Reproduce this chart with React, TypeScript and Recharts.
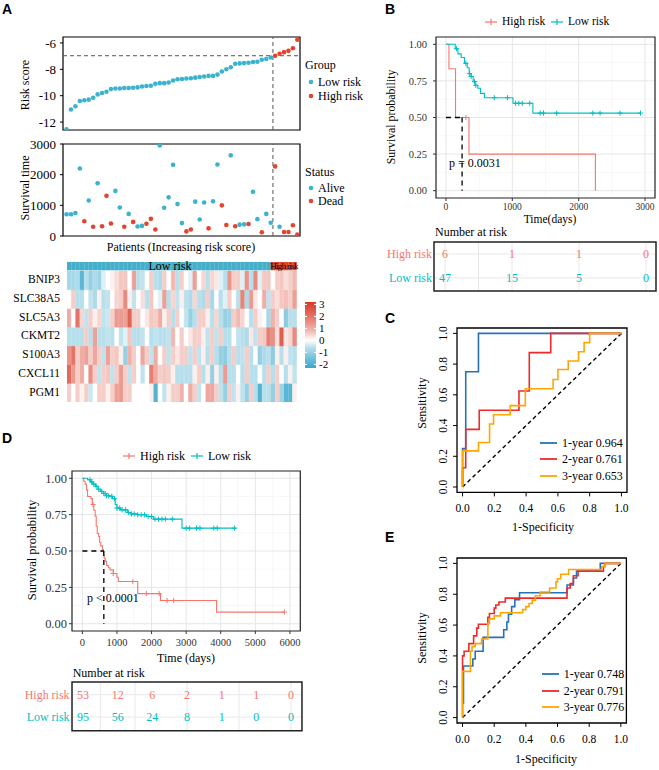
"use client"

import {
  ComposedChart, BarChart, Bar, Cell, Line, Scatter, XAxis, YAxis,
  CartesianGrid, ReferenceLine, ReferenceArea,
} from "recharts"

const SERIF = '"Liberation Serif", "Times New Roman", serif'
const SANS = '"Liberation Sans", Arial, sans-serif'

const KM_RED = "#F8766D"
const KM_TEAL = "#00BFC4"
const A_BLUE = "#3BB3D0"
const A_RED = "#E4432E"
const ROC_BLUE = "#2473B8"
const ROC_RED = "#EE2A2A"
const ROC_ORANGE = "#FFA500"

// ---------- A: risk score / survival time / heatmap ----------
const riskScore = [
  -12.55, -11.05, -10.8, -10.4, -10.35, -10.3, -10.15, -9.9, -9.8, -9.7,
  -9.5, -9.45, -9.45, -9.42, -9.42, -9.4, -9.37, -9.3, -9.27, -9.25,
  -9.1, -9.05, -9.05, -9.0, -8.85, -8.75, -8.73, -8.7, -8.68, -8.63,
  -8.58, -8.55, -8.5, -8.5, -8.4, -8.17, -8.0, -7.84, -7.58, -7.55,
  -7.53, -7.5, -7.45, -7.43, -7.28, -7.22, -7.1,
  -6.97, -6.82, -6.7, -6.6, -6.4, -5.75,
]
const riskCutoff = -6.97

const survTime = [
  710, 710, 750, 2200, 480, 1160, 300, 1720, 320, 1310,
  410, 1470, 930, 300, 720, 460, 310, 330, 400, 560,
  210, 2950, 920, 1260, 2320, 1040, 420, 150, 210, 1120,
  540, 1090, 250, 1130, 2330, 1000, 360, 2630, 320, 370,
  380, 390, 1440, 550, 120, 720, 430,
  2270, 300, 130, 130, 350, 50,
]
// 1 = dead, 0 = alive
const status = [
  0, 0, 0, 0, 1, 0, 1, 0, 1, 1,
  1, 0, 0, 1, 0, 1, 0, 0, 1, 1,
  1, 0, 0, 0, 0, 0, 0, 1, 1, 0,
  0, 0, 1, 0, 0, 1, 1, 0, 1, 0,
  0, 1, 0, 0, 1, 0, 0,
  1, 0, 1, 1, 1, 1,
]

const genes = ["BNIP3", "SLC38A5", "SLC5A3", "CKMT2", "S100A3", "CXCL11", "PGM1"]
const BNIP3 = [-0.8, -0.8, -0.7, -1.8, -0.6, -1.0, -0.7, -0.9, -0.2, 0.0, 0.1, 0.3, 0.6, 0.6, 0.0, 1.2, -0.6, -0.5, 0.0, 0.5, -0.6, -0.7, 0.5, 0.0, 0.8, -0.6, 0.5,
  0.0, -0.2, 1.2, 0.0, 0.4, -0.6, 0.4, 0.2, -0.2, -0.6, 1.4, 0.5, 0.5, -0.2, 1.4, -0.6, 1.6, -0.2, 0.6, 0.6, 0.0, 0.5, 0.6, 0.3, 0.5, 0.8]
const SLC38A5 = [0.0, 0.5, -0.6, -0.6, 0.0, -0.5, -0.7, 0.1, -0.6, -0.5, 0.0, 0.4, 0.5, 1.6, 0.1, -0.5, 0.0, 0.3, -0.6, 0.6, 0.0, -0.2, 1.2, -0.6, 0.4, -0.5, 0.1,
  -0.6, -0.7, 0.4, -0.6, -0.7, 0.5, -0.8, 0.0, -0.6, -0.2, 0.5, 0.0, -0.6, 1.7, -0.7, 1.3, 0.2, 0.0, 1.0, -0.5, 0.5, 0.3, 0.6, 0.7, 0.5, 1.2]
const SLC5A3 = [1.0, 0.0, 2.0, 0.4, -0.5, 0.5, 0.1, 0.4, -0.5, -0.4, 0.5, 1.3, 1.3, 1.2, 2.3, 0.5, 0.5, 0.0, 0.2, 0.6, 0.5, 1.0, 0.1, 0.5, -0.6, 0.5, 0.0,
  -0.5, -1.0, -0.6, 0.5, 0.5, 0.1, -0.6, 0.4, -0.6, -1.0, -0.9, 0.5, 0.8, 0.4, 0.0, -0.6, 0.5, 0.1, 0.0, -0.8, 0.9, 0.5, 0.0, -1.1, -0.6, -0.6]
const CKMT2 = [-0.6, -0.6, -0.6, -0.6, 0.5, -0.6, 1.2, -0.6, -0.6, -0.5, -0.6, 0.0, -0.5, -0.2, 0.6, -0.6, -0.6, -0.5, 0.0, -0.6, -0.5, -0.6, -0.6, -0.5, 0.8, 0.0, 0.5,
  0.0, 0.2, 0.5, 0.5, 0.1, -0.5, 0.5, -0.5, 0.5, -0.6, -0.6, 0.0, -0.5, -0.6, -0.7, 0.2, -0.5, 0.5, 0.6, 1.8, 1.5, 0.3, 2.4, 0.2, 0.4, 1.6]
const S100A3 = [1.4, 2.0, 0.5, 1.0, 1.2, 0.5, 1.1, 0.5, -0.5, 1.2, 0.5, 0.6, 0.1, -1.0, 0.9, 0.5, 0.0, 1.1, 0.5, -0.5, 1.0, 0.0, 0.5, -0.5, 0.5, 0.2, 0.5,
  0.5, -0.5, 0.5, -0.5, 0.1, -0.6, 0.5, -0.6, -1.0, -1.1, -0.6, 0.5, -0.6, -0.5, 0.5, -0.6, 0.0, -1.0, -0.7, -0.6, -1.1, 0.1, -0.6, 0.1, -0.5, -0.6]
const CXCL11 = [2.2, 1.3, 0.5, 1.0, 0.0, 1.5, 0.5, -0.5, 0.5, 0.6, -0.5, 0.5, 1.3, 0.5, -0.5, 0.5, 0.0, -0.5, 0.0, 1.8, 1.0, 0.5, 0.6, 0.5, 0.1, -0.6, -0.6,
  -0.6, -0.6, 0.1, 0.5, -0.6, 0.1, -1.0, 0.1, -0.6, 1.3, -0.6, -0.6, 0.0, -0.6, 0.5, -0.6, -0.6, 0.0, -0.6, 0.5, -0.6, 0.5, 0.0, -0.6, 0.1, -0.5]
const PGM1 = [0.5, 0.0, 0.5, 0.1, 0.5, -0.4, 0.0, 0.5, 0.5, 0.1, 0.5, 1.2, 1.3, 0.5, 0.5, 0.0, 0.0, 0.0, 0.0, 0.1, -1.9, 0.0, -0.5, 0.1, 0.5, 0.5, 0.9,
  0.0, 1.0, 0.5, -0.5, 0.0, 1.1, 1.1, 0.5, -0.5, -1.0, 0.5, -0.5, 0.1, -0.5, -1.0, 0.5, -0.6, -1.9, -0.6, -0.6, -1.0, 0.5, -0.9, -1.8, -1.8, 0.1]
const geneRows = [BNIP3, SLC38A5, SLC5A3, CKMT2, S100A3, CXCL11, PGM1]
const heatLegendTicks = [3, 2, 1, 0, -1, -2]

// ---------- B: KM (small cohort) ----------
const bHighT = [0, 45, 144, 347, 2252]
const bHighS = [1, 0.833, 0.5, 0.25, 0]
const bHighCensT = [300]
const bHighCensS = [0.5]
const bLowT = [0, 140, 180, 230, 280, 320, 350, 380, 410, 440, 480, 520, 580, 1010, 1310, 2931]
const bLowS = [1, 0.97, 0.935, 0.91, 0.87, 0.84, 0.8, 0.78, 0.745, 0.72, 0.7, 0.665, 0.635, 0.597, 0.53, 0.53]
const bLowCensT = [158, 300, 356, 380, 431, 450, 728, 926, 1050, 1099, 1149, 1262, 1421, 1470, 1668, 2213, 2322, 2624, 2931]
const bLowCensS = [0.97, 0.87, 0.8, 0.78, 0.745, 0.72, 0.635, 0.635, 0.597, 0.597, 0.597, 0.597, 0.53, 0.53, 0.53, 0.53, 0.53, 0.53, 0.53]
const bMedian = 243
const bTableT = [0, 1000, 2000, 3000]
const bHighN = [6, 1, 1, 0]
const bLowN = [47, 15, 5, 0]

// ---------- C: ROC ----------
const c1x = [0, 0, 0.02, 0.02, 0.1, 0.1, 1]
const c1y = [0, 0.25, 0.25, 0.75, 0.75, 1, 1]
const c2x = [0, 0, 0.02, 0.02, 0.105, 0.105, 0.355, 0.355, 0.42, 0.42, 0.555, 0.555, 1]
const c2y = [0, 0.125, 0.125, 0.375, 0.375, 0.5, 0.5, 0.625, 0.625, 0.875, 0.875, 1, 1]
const c3x = [0, 0, 0.1, 0.1, 0.17, 0.17, 0.195, 0.195, 0.3, 0.3, 0.395, 0.395, 0.57, 0.57, 0.6, 0.6, 0.665, 0.665, 0.73, 0.73, 0.765, 0.765, 0.8, 0.8, 1]
const c3y = [0, 0.235, 0.235, 0.29, 0.29, 0.41, 0.41, 0.47, 0.47, 0.53, 0.53, 0.64, 0.64, 0.7, 0.7, 0.765, 0.765, 0.82, 0.82, 0.88, 0.88, 0.94, 0.94, 1, 1]
const cLabels = ["1-year 0.964", "2-year 0.761", "3-year 0.653"]

// ---------- D: KM (large cohort) ----------
const dHighT = [0, 40, 80, 120, 150, 250, 290, 330, 370, 400, 430, 470, 500, 530, 580, 610, 630, 660, 700, 750, 800, 900, 1000, 1040, 1600, 2260, 3880, 5840]
const dHighS = [1, 0.98, 0.96, 0.92, 0.875, 0.86, 0.82, 0.78, 0.74, 0.67, 0.62, 0.6, 0.56, 0.535, 0.51, 0.47, 0.45, 0.43, 0.4, 0.385, 0.37, 0.345, 0.32, 0.29, 0.207, 0.16, 0.08, 0.08]
const dHighCensT = [310, 890, 1460, 1850, 2220, 2450, 2640, 5840]
const dHighCensS = [0.82, 0.345, 0.29, 0.207, 0.207, 0.16, 0.16, 0.08]
const dLowT = [0, 150, 230, 300, 380, 450, 520, 600, 700, 800, 870, 950, 1000, 1100, 1300, 1400, 1600, 1850, 2050, 2880, 4440]
const dLowS = [1, 0.99, 0.975, 0.96, 0.945, 0.925, 0.91, 0.895, 0.88, 0.876, 0.86, 0.82, 0.795, 0.783, 0.765, 0.755, 0.749, 0.737, 0.719, 0.657, 0.657]
const dLowCensT = [220, 270, 330, 400, 470, 560, 620, 660, 700, 760, 850, 930, 1000, 1080, 1150, 1250, 1330, 1420, 1500, 1600, 1700, 1800, 1900, 2000, 2100, 2200, 2300, 2400, 2600, 3000, 3100, 3300, 3400, 3800, 3900, 4400]
const dLowCensS = [0.99, 0.975, 0.96, 0.945, 0.925, 0.91, 0.895, 0.895, 0.88, 0.88, 0.876, 0.86, 0.795, 0.795, 0.783, 0.783, 0.765, 0.755, 0.755, 0.749, 0.749, 0.749, 0.737, 0.737, 0.719, 0.719, 0.719, 0.719, 0.719, 0.657, 0.657, 0.657, 0.657, 0.657, 0.657, 0.657]
const dMedian = 620
const dTableT = [0, 1000, 2000, 3000, 4000, 5000, 6000]
const dHighN = [53, 12, 6, 2, 1, 1, 0]
const dLowN = [95, 56, 24, 8, 1, 0, 0]

// ---------- E: ROC ----------
const e1x = [0.006, 0.006, 0.065, 0.065, 0.08, 0.08, 0.13, 0.13, 0.26, 0.26, 0.28, 0.28, 0.29, 0.29, 0.31, 0.31, 0.33, 0.33, 0.36, 0.36, 0.66, 0.66, 0.7, 0.7, 0.72, 0.72, 0.87, 0.87, 1]
const e1y = [0.09, 0.335, 0.335, 0.38, 0.38, 0.43, 0.43, 0.52, 0.52, 0.57, 0.57, 0.62, 0.62, 0.67, 0.67, 0.72, 0.72, 0.765, 0.765, 0.81, 0.81, 0.86, 0.86, 0.905, 0.905, 0.95, 0.95, 1, 1]
const e2x = [0, 0, 0.01, 0.01, 0.04, 0.04, 0.07, 0.07, 0.09, 0.09, 0.1, 0.1, 0.16, 0.16, 0.17, 0.17, 0.2, 0.2, 0.21, 0.21, 0.23, 0.23, 0.27, 0.27, 0.66, 0.66, 0.68, 0.68, 0.7, 0.7, 0.73, 0.73, 0.89, 0.89, 0.9, 0.9, 1]
const e2y = [0, 0.4, 0.4, 0.43, 0.43, 0.48, 0.48, 0.53, 0.53, 0.58, 0.58, 0.605, 0.605, 0.65, 0.65, 0.675, 0.675, 0.71, 0.71, 0.73, 0.73, 0.75, 0.75, 0.775, 0.775, 0.84, 0.84, 0.87, 0.87, 0.92, 0.92, 0.95, 0.95, 0.98, 0.98, 1, 1]
const e3x = [0, 0, 0.05, 0.05, 0.06, 0.06, 0.08, 0.08, 0.12, 0.12, 0.16, 0.16, 0.17, 0.17, 0.2, 0.2, 0.24, 0.24, 0.38, 0.38, 0.4, 0.4, 0.42, 0.42, 0.44, 0.44, 0.46, 0.46, 0.49, 0.49, 0.55, 0.55, 0.59, 0.59, 0.6, 0.6, 0.62, 0.62, 0.67, 0.67, 0.88, 0.88, 0.9, 0.9, 1]
const e3y = [0, 0.3, 0.3, 0.43, 0.43, 0.46, 0.46, 0.48, 0.48, 0.51, 0.51, 0.61, 0.61, 0.64, 0.64, 0.66, 0.66, 0.68, 0.68, 0.7, 0.7, 0.72, 0.72, 0.74, 0.74, 0.76, 0.76, 0.79, 0.79, 0.815, 0.815, 0.84, 0.84, 0.88, 0.88, 0.9, 0.9, 0.93, 0.93, 0.96, 0.96, 0.98, 0.98, 1, 1]
const eLabels = ["1-year 0.748", "2-year 0.791", "3-year 0.776"]

// ---------- helpers ----------
const zip = (xs: number[], ys: number[]) => xs.map((x, i) => ({ x, y: ys[i] }))

type Box = { x: number; y: number; w: number; h: number }
const PAD = 14
function frame(b: Box, yw: number, xh: number) {
  return {
    style: { position: "absolute" as const, left: b.x - yw - PAD, top: b.y - PAD },
    width: b.w + yw + 2 * PAD,
    height: b.h + xh + 2 * PAD,
    margin: { top: PAD, right: PAD, bottom: PAD, left: PAD },
  }
}

function Txt({ x, y, text, size = 12, anchor = "start", rotate = false, color = "#000", bold = false, family = SERIF, spacing = 0 }: any) {
  const tx = anchor === "start" ? "0" : anchor === "end" ? "-100%" : "-50%"
  return (
    <div style={{
      position: "absolute", left: x, top: y,
      transform: rotate ? "translate(-50%,-50%) rotate(-90deg)" : `translate(${tx},-50%)`,
      fontSize: size, fontFamily: family, color, fontWeight: bold ? 700 : 400,
      whiteSpace: "nowrap", lineHeight: 1, letterSpacing: spacing,
    }}>{text}</div>
  )
}

const dot = (color: string, r = 2.3) => (p: any) => <circle cx={p.cx} cy={p.cy} r={r} fill={color} />
const plus = (color: string, s = 2.6) => (p: any) => (
  <path d={`M${p.cx - s},${p.cy}h${2 * s}M${p.cx},${p.cy - s}v${2 * s}`} stroke={color} strokeWidth={1} fill="none" />
)

const HEAT_BLUE = [58, 168, 203]
const HEAT_RED = [216, 58, 38]
function heatColor(v: number) {
  const c = v < 0 ? HEAT_BLUE : HEAT_RED
  const t = Math.pow(Math.min(1, v < 0 ? -v / 2.3 : v / 3.2), 0.75)
  const m = c.map((k) => Math.round(255 + (k - 255) * t))
  return `rgb(${m.join(",")})`
}

const rotTick = (p: any) => (
  <text x={p.x - 4} y={p.y} transform={`rotate(-90 ${p.x - 4} ${p.y})`} textAnchor="middle"
    fontSize={11.5} fontFamily={SERIF} fill="#000">{Number(p.payload.value).toFixed(1)}</text>
)

function KmLegendItem({ x, y, color, label, size }: any) {
  return (
    <>
      <svg style={{ position: "absolute", left: x, top: y - 5 }} width={14} height={10}>
        <line x1={1} y1={5} x2={13} y2={5} stroke={color} strokeWidth={1.2} />
        <line x1={7} y1={2} x2={7} y2={8} stroke={color} strokeWidth={1.2} />
      </svg>
      <Txt x={x + 18} y={y} text={label} size={size} />
    </>
  )
}

function RocLegend({ x, y, labels }: any) {
  const cols = [ROC_BLUE, ROC_RED, ROC_ORANGE]
  return (
    <>
      {labels.map((l: string, i: number) => (
        <div key={l}>
          <svg style={{ position: "absolute", left: x, top: y + i * 16.7 - 2 }} width={18} height={4}>
            <line x1={0} y1={2} x2={17} y2={2} stroke={cols[i]} strokeWidth={1.8} />
          </svg>
          <Txt x={x + 22} y={y + i * 16.7} text={l} size={12} />
        </div>
      ))}
    </>
  )
}

function KmChart({ box, yw, xh, xDomain, xTicks, minorX, high, low, highC, lowC, median, yFont, xFont, tickM, xTickM }: any) {
  const f = frame(box, yw, xh)
  return (
    <div style={f.style}>
      <ComposedChart width={f.width} height={f.height} margin={f.margin}>
        <CartesianGrid horizontalValues={[0.125, 0.375, 0.625, 0.875]} verticalValues={minorX} stroke="#F3F3F3" strokeWidth={0.6} />
        <CartesianGrid horizontalValues={[0, 0.25, 0.5, 0.75, 1]} verticalValues={xTicks} stroke="#E6E6E6" strokeWidth={1} />
        <XAxis type="number" dataKey="x" domain={xDomain} ticks={xTicks} interval={0} height={xh} tickSize={3} tickMargin={xTickM}
          axisLine={false} tickLine={{ stroke: "#333" }} tick={{ fontSize: xFont, fill: "#333", fontFamily: SERIF }} allowDataOverflow />
        <YAxis type="number" dataKey="y" domain={[-0.05, 1.05]} ticks={[0, 0.25, 0.5, 0.75, 1]} interval={0} tickFormatter={(v: number) => v.toFixed(2)}
          width={yw} tickSize={3} tickMargin={tickM} axisLine={false} tickLine={{ stroke: "#333" }}
          tick={{ fontSize: yFont, fill: "#333", fontFamily: SERIF }} allowDataOverflow />
        <Line data={high} dataKey="y" type="stepAfter" stroke={KM_RED} strokeWidth={1.1} dot={false} isAnimationActive={false} />
        <Line data={low} dataKey="y" type="stepAfter" stroke={KM_TEAL} strokeWidth={1.1} dot={false} isAnimationActive={false} />
        <Scatter data={highC} dataKey="y" shape={plus(KM_RED)} isAnimationActive={false} />
        <Scatter data={lowC} dataKey="y" shape={plus(KM_TEAL)} isAnimationActive={false} />
        <ReferenceLine segment={[{ x: 0, y: 0.5 }, { x: median, y: 0.5 }]} stroke="#000" strokeWidth={1.3} strokeDasharray="5 4" />
        <ReferenceLine segment={[{ x: median, y: 0.5 }, { x: median, y: 0 }]} stroke="#000" strokeWidth={1.3} strokeDasharray="5 4" />
        <ReferenceArea x1={xDomain[0]} x2={xDomain[1]} y1={-0.05} y2={1.05} fill="none" stroke="#222" strokeWidth={1.2} />
      </ComposedChart>
    </div>
  )
}

function RiskTable({ box, yw, xDomain, yDomain, minorX, times, highN, lowN, tickM }: any) {
  const f = frame(box, yw, 0)
  const rows = [
    ...times.map((t: number, i: number) => ({ x: t, y: 2, n: highN[i] })),
    ...times.map((t: number, i: number) => ({ x: t, y: 1, n: lowN[i] })),
  ]
  const numShape = (p: any) => (
    <text x={p.cx} y={p.cy} textAnchor="middle" dominantBaseline="central" fontSize={12} fontFamily={SERIF}
      fill={p.payload.y === 2 ? KM_RED : KM_TEAL}>{p.payload.n}</text>
  )
  const rowTick = (p: any) => (
    <text x={p.x} y={p.y} textAnchor="end" dominantBaseline="central" fontSize={12} fontFamily={SERIF}
      fill={p.payload.value === 2 ? KM_RED : KM_TEAL}>{p.payload.value === 2 ? "High risk" : "Low risk"}</text>
  )
  return (
    <div style={f.style}>
      <ComposedChart width={f.width} height={f.height} margin={f.margin}>
        <CartesianGrid horizontalValues={[1, 2]} verticalValues={minorX} stroke="#E8E8E8" strokeWidth={1} />
        <XAxis type="number" dataKey="x" domain={xDomain} hide allowDataOverflow />
        <YAxis type="number" dataKey="y" domain={yDomain} ticks={[1, 2]} interval={0} width={yw} tickSize={0} tickMargin={tickM}
          axisLine={false} tickLine={false} tick={rowTick} allowDataOverflow />
        <Scatter data={rows} dataKey="y" shape={numShape} isAnimationActive={false} />
        <ReferenceArea x1={xDomain[0]} x2={xDomain[1]} y1={yDomain[0]} y2={yDomain[1]} fill="none" stroke="#222" strokeWidth={1.5} />
      </ComposedChart>
    </div>
  )
}

function RocChart({ box, s1, s2, s3, xTickM }: any) {
  const f = frame(box, 30, 26)
  const dom = [-0.035, 1.035]
  return (
    <div style={f.style}>
      <ComposedChart width={f.width} height={f.height} margin={f.margin}>
        <XAxis type="number" dataKey="x" domain={dom} ticks={[0, 0.2, 0.4, 0.6, 0.8, 1]} interval={0} tickFormatter={(v: number) => v.toFixed(1)}
          height={26} tickSize={4} tickMargin={xTickM} axisLine={false} tickLine={{ stroke: "#000" }}
          tick={{ fontSize: 11.5, fill: "#000", fontFamily: SERIF }} allowDataOverflow />
        <YAxis type="number" dataKey="y" domain={dom} ticks={[0, 0.2, 0.4, 0.6, 0.8, 1]} interval={0} width={30} tickSize={4} tickMargin={2}
          axisLine={false} tickLine={{ stroke: "#000" }} tick={rotTick} allowDataOverflow />
        <ReferenceLine segment={[{ x: 0, y: 0 }, { x: 1, y: 1 }]} stroke="#000" strokeWidth={1.4} strokeDasharray="4 3" />
        <Line data={s1} dataKey="y" type="linear" stroke={ROC_BLUE} strokeWidth={1.6} dot={false} isAnimationActive={false} />
        <Line data={s2} dataKey="y" type="linear" stroke={ROC_RED} strokeWidth={1.6} dot={false} isAnimationActive={false} />
        <Line data={s3} dataKey="y" type="linear" stroke={ROC_ORANGE} strokeWidth={1.6} dot={false} isAnimationActive={false} />
        <ReferenceArea x1={dom[0]} x2={dom[1]} y1={dom[0]} y2={dom[1]} fill="none" stroke="#000" strokeWidth={1.3} />
      </ComposedChart>
    </div>
  )
}

export default function App() {
  const riskPts = riskScore.map((v, i) => ({ x: i + 1, y: v }))
  const riskLow = riskPts.filter((p) => p.y < riskCutoff)
  const riskHigh = riskPts.filter((p) => p.y >= riskCutoff)
  const splitX = riskLow.length + 0.5
  const timePts = survTime.map((v, i) => ({ x: i + 1, y: v, d: status[i] }))
  const alive = timePts.filter((p) => p.d === 0)
  const dead = timePts.filter((p) => p.d === 1)
  const aDom = [0.2, 53.6]

  const fA1 = frame({ x: 63, y: 37, w: 237, h: 93 }, 40, 0)
  const fA2 = frame({ x: 63, y: 144, w: 237, h: 92 }, 40, 0)
  const heatData = riskScore.map((v, i) => ({ i, v }))
  const ROW_GAP = 0.05
  const ANNOT = 0.43
  const heatTop = 7 + ROW_GAP + ANNOT

  const aTick = { fontSize: 13, fill: "#000", fontFamily: SERIF }

  return (
    <div style={{ position: "absolute", left: 0, top: 0, width: 659, height: 770, overflow: "hidden", background: "#fff", fontFamily: SERIF }}>
      {/* panel letters */}
      <Txt x={2} y={9} text="A" size={14} bold family={SANS} />
      <Txt x={385} y={9} text="B" size={14} bold family={SANS} />
      <Txt x={385} y={318} text="C" size={14} bold family={SANS} />
      <Txt x={2} y={438} text="D" size={14} bold family={SANS} />
      <Txt x={385} y={537} text="E" size={14} bold family={SANS} />

      {/* A: risk score */}
      <div style={fA1.style}>
        <ComposedChart width={fA1.width} height={fA1.height} margin={fA1.margin}>
          <XAxis type="number" dataKey="x" domain={aDom} hide allowDataOverflow />
          <YAxis type="number" dataKey="y" domain={[-12.6, -5.55]} ticks={[-12, -10, -8, -6]} interval={0} width={40} tickSize={3} tickMargin={4}
            axisLine={false} tickLine={{ stroke: "#000" }} tick={aTick} allowDataOverflow />
          <ReferenceLine y={riskCutoff} stroke="#555" strokeDasharray="4 3" />
          <ReferenceLine x={splitX} stroke="#555" strokeDasharray="4 3" />
          <Scatter data={riskLow} dataKey="y" shape={dot(A_BLUE)} isAnimationActive={false} />
          <Scatter data={riskHigh} dataKey="y" shape={dot(A_RED)} isAnimationActive={false} />
          <ReferenceArea x1={aDom[0]} x2={aDom[1]} y1={-12.6} y2={-5.55} fill="none" stroke="#000" strokeWidth={1.2} />
        </ComposedChart>
      </div>
      <Txt x={25} y={85} text="Risk score" size={12} rotate />
      <Txt x={305} y={65} text="Group" size={12} />
      <svg style={{ position: "absolute", left: 308, top: 79 }} width={6} height={20}>
        <circle cx={3} cy={3} r={2.3} fill={A_BLUE} />
        <circle cx={3} cy={17} r={2.3} fill={A_RED} />
      </svg>
      <Txt x={318} y={82} text="Low risk" size={12} />
      <Txt x={318} y={96} text="High risk" size={12} />

      {/* A: survival time */}
      <div style={fA2.style}>
        <ComposedChart width={fA2.width} height={fA2.height} margin={fA2.margin}>
          <XAxis type="number" dataKey="x" domain={aDom} hide allowDataOverflow />
          <YAxis type="number" dataKey="y" domain={[0, 3000]} ticks={[0, 1000, 2000, 3000]} interval={0} width={40} tickSize={3} tickMargin={4}
            axisLine={false} tickLine={{ stroke: "#000" }} tick={aTick} allowDataOverflow />
          <ReferenceLine x={splitX} stroke="#555" strokeDasharray="4 3" />
          <Scatter data={alive} dataKey="y" shape={dot(A_BLUE)} isAnimationActive={false} />
          <Scatter data={dead} dataKey="y" shape={dot(A_RED)} isAnimationActive={false} />
          <ReferenceArea x1={aDom[0]} x2={aDom[1]} y1={0} y2={3000} fill="none" stroke="#000" strokeWidth={1.2} />
        </ComposedChart>
      </div>
      <Txt x={25} y={188} text="Survival time" size={12} rotate />
      <Txt x={181} y={247} text="Patients (Increasing risk score)" size={12} anchor="middle" />
      <Txt x={305} y={172} text="Status" size={12} />
      <svg style={{ position: "absolute", left: 308, top: 185 }} width={6} height={20}>
        <circle cx={3} cy={3} r={2.3} fill={A_BLUE} />
        <circle cx={3} cy={16} r={2.3} fill={A_RED} />
      </svg>
      <Txt x={318} y={188} text="Alive" size={12} />
      <Txt x={318} y={201} text="Dead" size={12} />

      {/* A: heatmap */}
      <div style={{ position: "absolute", left: 67, top: 262 }}>
        <BarChart width={230} height={140} data={heatData} margin={{ top: 0, right: 0, bottom: 0, left: 0 }} barCategoryGap={0} barGap={0}>
          <XAxis dataKey="i" hide />
          <YAxis type="number" domain={[0, heatTop]} hide allowDataOverflow />
          {[...geneRows].reverse().map((row, gi) => (
            <Bar key={gi} stackId="h" dataKey={() => 1} isAnimationActive={false}>
              {row.map((v, i) => <Cell key={i} fill={heatColor(v)} stroke={heatColor(v)} strokeWidth={0.5} />)}
            </Bar>
          ))}
          <Bar stackId="h" dataKey={() => ROW_GAP} fill="none" isAnimationActive={false} />
          <Bar stackId="h" dataKey={() => ANNOT} isAnimationActive={false}>
            {riskScore.map((v, i) => {
              const c = v >= riskCutoff ? "#D9452F" : "#44AFCB"
              return <Cell key={i} fill={c} stroke={c} strokeWidth={0.5} />
            })}
          </Bar>
        </BarChart>
      </div>
      <Txt x={170} y={265.5} text="Low risk" size={12} anchor="middle" />
      <Txt x={284} y={265.5} text="High risk" size={9} anchor="middle" spacing={-0.7} />
      {genes.map((g, k) => (
        <Txt key={g} x={60} y={271 + 18.7 * (k + 0.5)} text={g} size={11.5} anchor="end" />
      ))}
      <svg style={{ position: "absolute", left: 305, top: 302 }} width={11} height={66}>
        <defs>
          <linearGradient id="heatGrad" x1="0" y1="0" x2="0" y2="1">
            {[3.2, 2.4, 1.6, 0.8, 0, -0.6, -1.2, -1.8, -2.3].map((v) => (
              <stop key={v} offset={`${((3.2 - v) / 5.5) * 100}%`} stopColor={heatColor(v)} />
            ))}
          </linearGradient>
        </defs>
        <rect x={0} y={0} width={11} height={66} fill="url(#heatGrad)" />
        {heatLegendTicks.map((v) => (
          <g key={v}>
            <line x1={0} x2={2} y1={((3.2 - v) / 5.5) * 66} y2={((3.2 - v) / 5.5) * 66} stroke="#fff" />
            <line x1={9} x2={11} y1={((3.2 - v) / 5.5) * 66} y2={((3.2 - v) / 5.5) * 66} stroke="#fff" />
          </g>
        ))}
      </svg>
      {heatLegendTicks.map((v) => (
        <Txt key={v} x={319} y={302 + ((3.2 - v) / 5.5) * 66} text={String(v)} size={11} />
      ))}

      {/* B: KM */}
      <KmLegendItem x={484} y={22} color={KM_RED} label="High risk" size={11.5} />
      <KmLegendItem x={550} y={22} color={KM_TEAL} label="Low risk" size={11.5} />
      <KmChart box={{ x: 436, y: 37, w: 219, h: 161 }} yw={40} xh={22} xDomain={[-150, 3150]} xTicks={[0, 1000, 2000, 3000]}
        minorX={[500, 1500, 2500]} high={zip(bHighT, bHighS)} low={zip(bLowT, bLowS)}
        highC={zip(bHighCensT, bHighCensS)} lowC={zip(bLowCensT, bLowCensS)} median={bMedian} yFont={10.5} xFont={9.5} tickM={6} xTickM={2} />
      <Txt x={392} y={117} text="Survival probability" size={11.8} rotate />
      <Txt x={550} y={220} text="Time(days)" size={11.5} anchor="middle" />
      <Txt x={449} y={163} text="p = 0.0031" size={12} />
      <Txt x={435} y={232} text="Number at risk" size={12} />
      <RiskTable box={{ x: 434, y: 242, w: 222, h: 49 }} yw={60} xDomain={[-165, 3150]} yDomain={[0.45, 2.5]}
        minorX={[0, 500, 1000, 1500, 2000, 2500, 3000]} times={bTableT} highN={bHighN} lowN={bLowN} tickM={2} />

      {/* C: ROC */}
      <RocChart box={{ x: 457.3, y: 328.3, w: 170, h: 164.4 }} s1={zip(c1x, c1y)} s2={zip(c2x, c2y)} s3={zip(c3x, c3y)} xTickM={7} />
      <Txt x={422} y={403} text="Sensitivity" size={12} rotate />
      <Txt x={543} y={527} text="1-Specificity" size={12} anchor="middle" />
      <RocLegend x={540} y={442.7} labels={cLabels} />

      {/* D: KM */}
      <KmLegendItem x={122} y={456} color={KM_RED} label="High risk" size={12} />
      <KmLegendItem x={190} y={456} color={KM_TEAL} label="Low risk" size={12} />
      <KmChart box={{ x: 71.7, y: 470.7, w: 228.3, h: 160 }} yw={50} xh={22} xDomain={[-300, 6300]}
        xTicks={[0, 1000, 2000, 3000, 4000, 5000, 6000]} minorX={[500, 1500, 2500, 3500, 4500, 5500]}
        high={zip(dHighT, dHighS)} low={zip(dLowT, dLowS)} highC={zip(dHighCensT, dHighCensS)} lowC={zip(dLowCensT, dLowCensS)}
        median={dMedian} yFont={12.5} xFont={10.5} tickM={2} xTickM={5} />
      <Txt x={32} y={550} text="Survival probability" size={12.5} rotate />
      <Txt x={186} y={658} text="Time (days)" size={12} anchor="middle" />
      <Txt x={87} y={598} text="p < 0.0001" size={12} />
      <Txt x={72.7} y={672.7} text="Number at risk" size={12} />
      <RiskTable box={{ x: 71.7, y: 682.3, w: 230, h: 48.7 }} yw={50} xDomain={[-317, 6317]} yDomain={[0.39, 2.57]}
        minorX={[0, 500, 1000, 1500, 2000, 2500, 3000, 3500, 4000, 4500, 5000, 5500, 6000]} times={dTableT} highN={dHighN} lowN={dLowN} tickM={2.4} />

      {/* E: ROC */}
      <RocChart box={{ x: 457.3, y: 558.3, w: 169.4, h: 165 }} s1={zip(e1x, e1y)} s2={zip(e2x, e2y)} s3={zip(e3x, e3y)} xTickM={8} />
      <Txt x={422} y={638} text="Sensitivity" size={12} rotate />
      <Txt x={546} y={759} text="1-Specificity" size={12} anchor="middle" />
      <RocLegend x={541.7} y={674} labels={eLabels} />
    </div>
  )
}
